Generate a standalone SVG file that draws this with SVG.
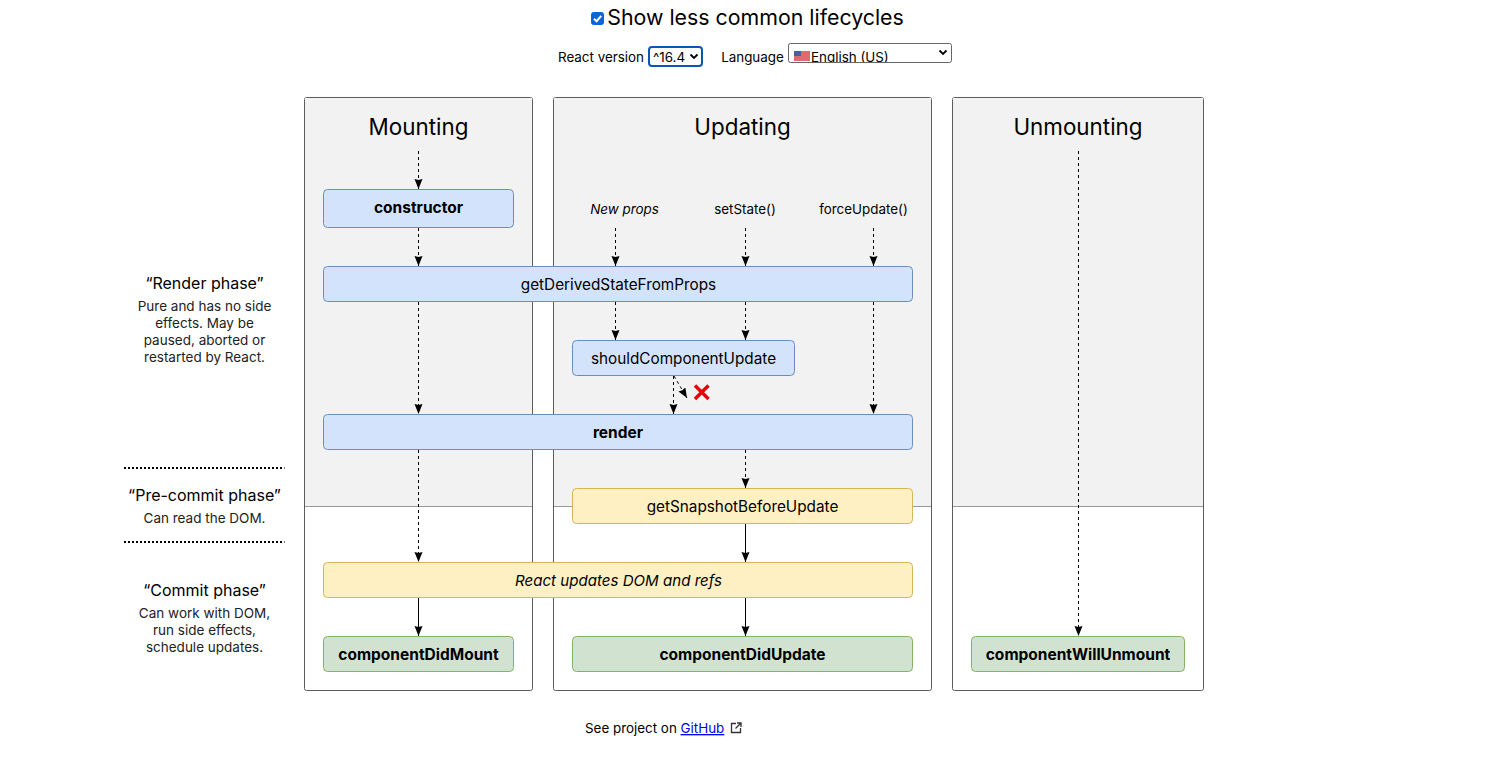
<svg xmlns="http://www.w3.org/2000/svg" width="1489" height="767" viewBox="0 0 1489 767">
<defs>
<style>
text{font-family:Inter,"Liberation Sans",sans-serif;fill:#000;text-anchor:middle}
.t{font-size:22.4px}
.n{font-size:15.3px}
.b{font-size:15.5px;font-weight:700}
.s{font-size:13.4px}
.h{font-size:16px}
.d{font-size:13.5px;fill:#222}
.pan{fill:#fff;stroke:#5c5c5c;stroke-width:1}
.blue{fill:#d4e3fc;stroke:#6c8ebf;stroke-width:1}
.yel{fill:#fff0c4;stroke:#d6b656;stroke-width:1}
.grn{fill:#d1e3d0;stroke:#82b366;stroke-width:1}
.dash{fill:none;stroke:#000;stroke-width:1;stroke-dasharray:3 3;marker-end:url(#a)}
.sol{fill:none;stroke:#000;stroke-width:1;marker-end:url(#a)}
.dot{stroke:#000;stroke-width:2;stroke-dasharray:2 2}
</style>
<marker id="a" markerUnits="userSpaceOnUse" markerWidth="11" markerHeight="9" refX="10" refY="4" orient="auto"><path d="M0 0L10 4L0 8L1 4Z" fill="#000"/></marker>
<clipPath id="lang"><rect x="789" y="44" width="162" height="18"/></clipPath>
</defs>
<rect width="1489" height="767" fill="#fff"/>
<g id="controls">
<rect x="591.500" y="12.500" width="12" height="12" rx="2" fill="#0a66d8" stroke="#0a66d8"/>
<path d="M594 18.800L596.600 21.200L601.200 15.800" fill="none" stroke="#fff" stroke-width="2"/>
<text x="755.500" y="25" style="font-size:21.35px">Show less common lifecycles</text>
<text x="601" y="62" class="s">React version</text>
<rect x="649" y="47" width="53" height="19" rx="3" fill="#fff" stroke="#0a55b8" stroke-width="2"/>
<text x="653" y="62" class="s" style="text-anchor:start">^16.4</text>
<path d="M690.500 54.500L694 58L697.500 54.500" fill="none" stroke="#000" stroke-width="1.800"/>
<text x="752.500" y="62" class="s">Language</text>
<rect x="788.500" y="43.500" width="163" height="19" rx="2" fill="#fff" stroke="#666"/>
<g clip-path="url(#lang)">
<rect x="794" y="51" width="16" height="10" fill="#e06a70"/>
<rect x="794" y="51" width="7" height="5" fill="#4a5f9e"/>
<text x="811" y="62" class="s" style="text-anchor:start">English (US)</text>
</g>
<path d="M939.500 50.500L943 54L946.500 50.500" fill="none" stroke="#000" stroke-width="1.800"/>
</g>
<g id="mounting">
<rect x="304.500" y="97.500" width="228" height="593" rx="2" class="pan"/>
<rect x="305" y="98" width="227" height="408" fill="#f2f2f2"/>
<path d="M305 506.500H532" stroke="#999"/>
<text x="418.500" y="135" class="t">Mounting</text>
</g>
<g id="updating">
<rect x="553.500" y="97.500" width="378" height="593" rx="2" class="pan"/>
<rect x="554" y="98" width="377" height="408" fill="#f2f2f2"/>
<path d="M554 506.500H931" stroke="#999"/>
<text x="742.500" y="135" class="t">Updating</text>
<text x="624.500" y="214" class="s" style="font-style:italic">New props</text>
<text x="745" y="214" class="s">setState()</text>
<text x="863.500" y="214" class="s">forceUpdate()</text>
</g>
<g id="unmounting">
<rect x="952.500" y="97.500" width="251" height="593" rx="2" class="pan"/>
<rect x="953" y="98" width="250" height="408" fill="#f2f2f2"/>
<path d="M953 506.500H1203" stroke="#999"/>
<text x="1078" y="135" class="t">Unmounting</text>
</g>
<g id="connectors">
<path class="dash" d="M418.500 151V189"/>
<path class="dash" d="M418.500 228V266"/>
<path class="dash" d="M418.500 302V414"/>
<path class="dash" d="M418.500 450V562"/>
<path class="sol" d="M418.500 598V636"/>
<path class="dash" d="M615.500 228V266"/>
<path class="dash" d="M745.500 228V266"/>
<path class="dash" d="M873.500 228V266"/>
<path class="dash" d="M615.500 302V340"/>
<path class="dash" d="M745.500 302V340"/>
<path class="dash" d="M873.500 302V414"/>
<path class="dash" d="M673.500 376V414"/>
<path class="dash" d="M674 376L687 398"/>
<path class="dash" d="M745.500 450V488"/>
<path class="sol" d="M745.500 524V562"/>
<path class="sol" d="M745.500 598V636"/>
<path class="dash" d="M1078.500 151V636"/>
</g>
<g id="constructor"><rect x="323.500" y="189.500" width="190" height="38" rx="4" class="blue"/><text x="418.500" y="213" class="b">constructor</text></g>
<g id="getDerivedStateFromProps"><rect x="323.500" y="266.500" width="589" height="35" rx="4" class="blue"/><text x="618.500" y="290" class="n">getDerivedStateFromProps</text></g>
<g id="shouldComponentUpdate"><rect x="572.500" y="340.500" width="222" height="35" rx="4" class="blue"/><text x="683.500" y="364" class="n">shouldComponentUpdate</text></g>
<g id="cross"><path d="M695 385.500L708.500 399M708.500 385.500L695 399" stroke="#e8000d" stroke-width="3.500" fill="none"/></g>
<g id="render"><rect x="323.500" y="414.500" width="589" height="35" rx="4" class="blue"/><text x="618" y="438" class="b">render</text></g>
<g id="getSnapshotBeforeUpdate"><rect x="572.500" y="488.500" width="340" height="35" rx="4" class="yel"/><text x="742.500" y="512" class="n">getSnapshotBeforeUpdate</text></g>
<g id="reactUpdates"><rect x="323.500" y="562.500" width="589" height="35" rx="4" class="yel"/><text x="618.500" y="586" style="font-size:15.1px;font-style:italic">React updates DOM and refs</text></g>
<g id="componentDidMount"><rect x="323.500" y="636.500" width="190" height="35" rx="4" class="grn"/><text x="418.500" y="660" class="b">componentDidMount</text></g>
<g id="componentDidUpdate"><rect x="572.500" y="636.500" width="340" height="35" rx="4" class="grn"/><text x="742.500" y="660" class="b">componentDidUpdate</text></g>
<g id="componentWillUnmount"><rect x="971.500" y="636.500" width="213" height="35" rx="4" class="grn"/><text x="1078" y="660" class="b">componentWillUnmount</text></g>
<g id="phases">
<text x="204.500" y="289" class="h">“Render phase”</text>
<text x="204.500" y="311" class="d">Pure and has no side</text>
<text x="204.500" y="328" class="d">effects. May be</text>
<text x="204.500" y="345" class="d">paused, aborted or</text>
<text x="204.500" y="362" class="d">restarted by React.</text>
<path class="dot" d="M124 468H284.500"/>
<text x="204.500" y="501" class="h">“Pre-commit phase”</text>
<text x="204.500" y="523" class="d">Can read the DOM.</text>
<path class="dot" d="M124 542H284.500"/>
<text x="204.500" y="596" class="h">“Commit phase”</text>
<text x="204.500" y="618" class="d">Can work with DOM,</text>
<text x="204.500" y="635" class="d">run side effects,</text>
<text x="204.500" y="652" class="d">schedule updates.</text>
</g>
<g id="footer">
<text x="585" y="733" class="s" style="text-anchor:start">See project on <tspan fill="#00e" text-decoration="underline">GitHub</tspan></text>
<path d="M736 723.500H731.500V732.500H740.500V728M735.500 728.500L740.500 723.500M737 723H741V727" fill="none" stroke="#333" stroke-width="1.300"/>
</g>
</svg>
